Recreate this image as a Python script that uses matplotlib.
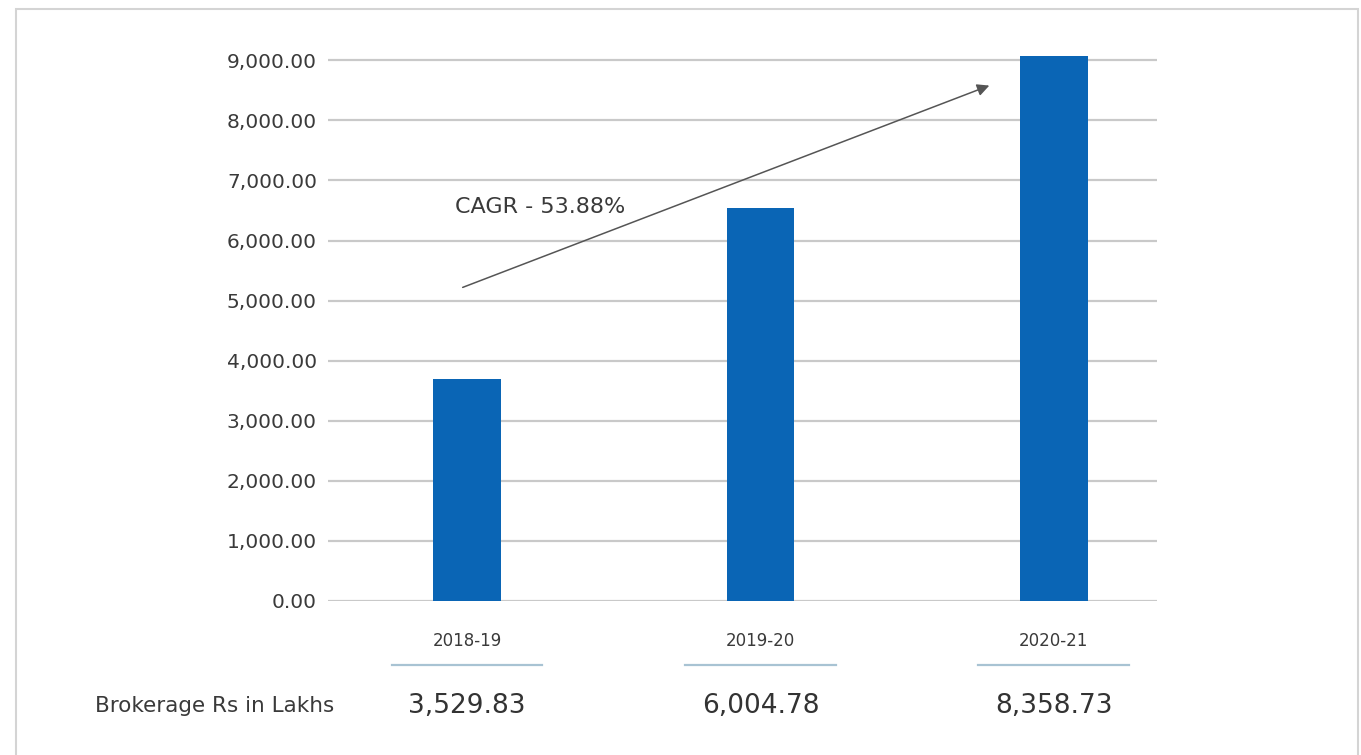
import matplotlib.pyplot as plt
from matplotlib.patches import Rectangle

plt.rcParams["font.family"] = ["DejaVu Sans"]

years = ["2018-19", "2019-20", "2020-21"]
bar_heights = [3700, 6550, 9080]
brokerage = [3529.83, 6004.78, 8358.73]
yticks = [0, 1000, 2000, 3000, 4000, 5000, 6000, 7000, 8000, 9000]
cagr_text = "CAGR - 53.88%"

fig = plt.figure(figsize=(13.61, 7.55), dpi=100)
ax = fig.add_axes([0.241, 0.204, 0.609, 0.732])

# outer card border
fig.patches.append(Rectangle((16 / 1361, -0.05), 1342 / 1361, 1.05 - 9 / 755,
                             transform=fig.transFigure, fill=False,
                             edgecolor="#d4d4d4", lw=1.5))

x = list(range(len(years)))
ax.bar(x, bar_heights, width=0.23, color="#0a65b5", zorder=3)

ax.set_xlim(-0.474, 2.351)
ax.set_ylim(0, 9200)
ax.set_yticks(yticks)
ax.set_yticklabels([f"{v:,.2f}" for v in yticks], fontsize=14.5, color="#3a3a3a")
ax.yaxis.grid(True, color="#c9c9c9", lw=1.6, zorder=0)
ax.tick_params(axis="y", length=0, pad=8)

ax.set_xticks(x)
ax.set_xticklabels(years, fontsize=12, color="#3a3a3a")
ax.tick_params(axis="x", length=0, pad=22)

for s in ax.spines.values():
    s.set_visible(False)

# growth arrow
ax.annotate("", xy=(1.78, 8580), xytext=(-0.015, 5220),
            arrowprops=dict(arrowstyle="-|>", color="#555555", lw=1.1,
                            mutation_scale=18, shrinkA=0, shrinkB=0))
ax.text(-0.04, 6555, cagr_text, fontsize=16, color="#3a3a3a", va="center")

# brokerage row under the axis
tr = ax.get_xaxis_transform()
for xi, v in zip(x, brokerage):
    ax.plot([xi - 0.257, xi + 0.257], [-0.116, -0.116], transform=tr,
            color="#a8c3d3", lw=1.6, clip_on=False)
    ax.text(xi, -0.19, f"{v:,.2f}", transform=tr, ha="center", va="center",
            fontsize=19, color="#333333")

fig.text(95 / 1361, 1 - 706 / 755, "Brokerage Rs in Lakhs", fontsize=15.5,
         color="#3a3a3a", va="center", ha="left")

fig.savefig("out.png", dpi=100, facecolor="white")
